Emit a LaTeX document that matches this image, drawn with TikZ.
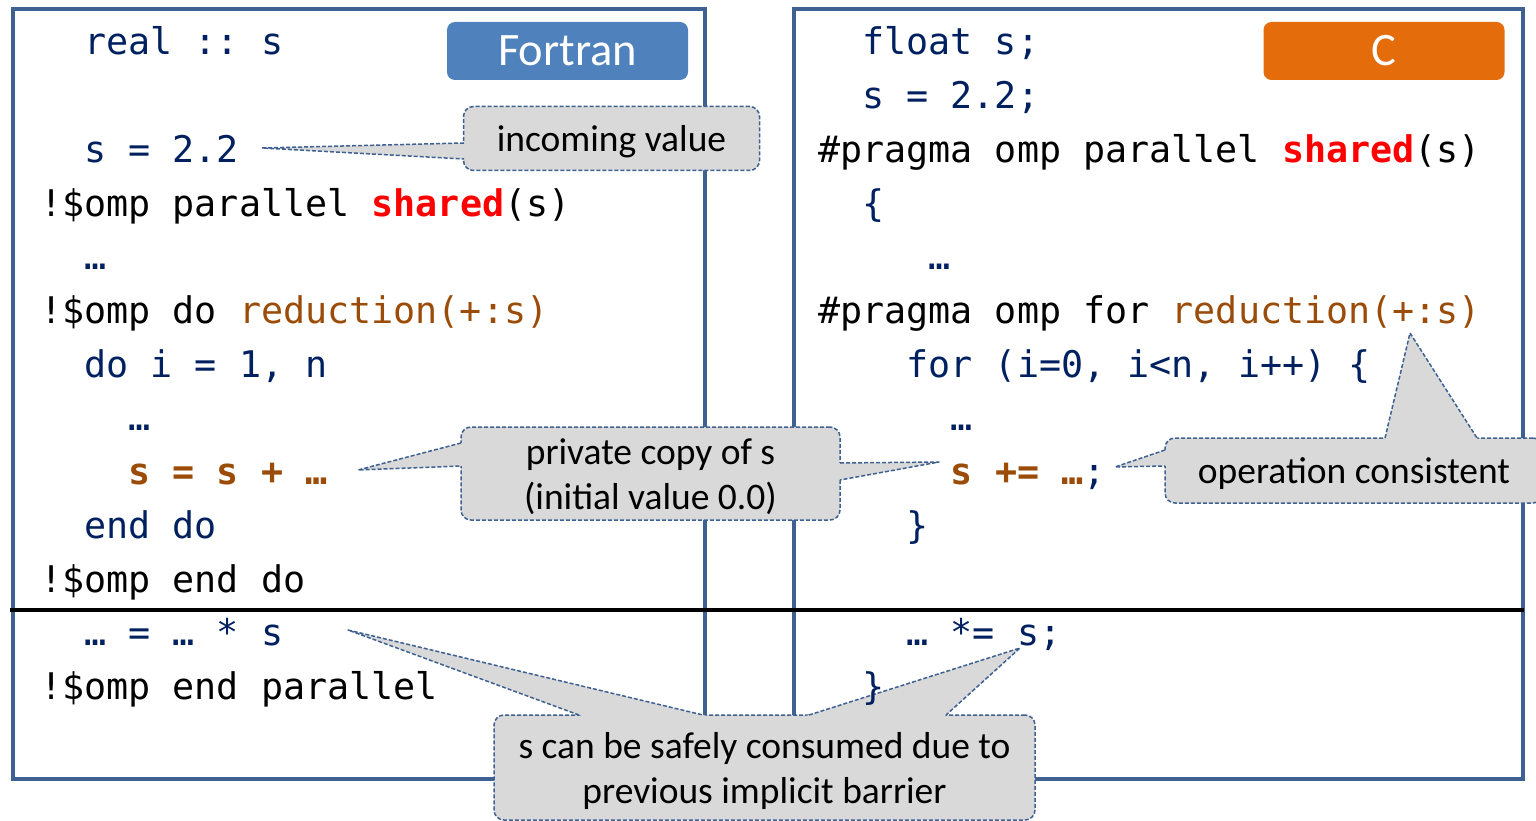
\documentclass[tikz,border=0pt]{standalone}
\usepackage{fontspec}
\setmainfont{Carlito}
\setmonofont{DejaVu Sans Mono}
\usetikzlibrary{calc}
\definecolor{frame}{HTML}{3E6191}
\definecolor{navy}{HTML}{002060}
\definecolor{rust}{HTML}{9A4C08}
\definecolor{hot}{HTML}{FF0000}
\definecolor{fblue}{HTML}{4F81BD}
\definecolor{corange}{HTML}{E46C0A}
\definecolor{note}{HTML}{D9D9D9}
\newcommand\nv[1]{\textcolor{navy}{#1}}
\newcommand\sh[1]{\textcolor{hot}{\bfseries #1}}
\newcommand\rd[1]{\textcolor{rust}{#1}}
\newcommand\rdb[1]{\textcolor{rust}{\bfseries #1}}
\newcommand\lo[1]{\raisebox{-3pt}[\height][\depth]{#1}}
% callout tail: base a, base b, tip
\newcommand\pointer[3]{%
  \fill[note] (#1) -- (#3) -- (#2) -- ($(#2)!-8pt!(#3)$) -- ($(#1)!-8pt!(#3)$) -- cycle;
  \draw[tail] (#1) -- (#3) -- (#2);}

\begin{document}
\begin{tikzpicture}[x=1pt,y=-1pt,
    codebox/.style={draw=frame,line width=4pt},
    code/.style={anchor=base west,inner sep=0pt,font=\ttfamily\fontsize{36.7}{44}\selectfont},
    lang/.style={rounded corners=8pt,inner sep=0pt,minimum width=241pt,minimum height=58pt,
      text=white,font=\fontsize{46.5}{50}\selectfont},
    notebox/.style={rounded corners=10pt,fill=note,draw=frame,line width=1.5pt,
      dash pattern=on 4pt off 2pt,inner sep=0pt,align=center,
      font=\fontsize{37.5}{45}\selectfont},
    tail/.style={draw=frame,line width=1.5pt,dash pattern=on 4pt off 2pt,line join=round}]
  \useasboundingbox (0,0) rectangle (1536,821);

  % the two code panels
  \draw[codebox] (13,9) rectangle (705,779);
  \draw[codebox] (794,9) rectangle (1523,779);
  \draw[line width=4.5pt] (10,610) -- (1524,610);

  \node[lang,fill=fblue] (fort) at (567.5,51) {Fortran};
  \node[lang,fill=corange] (clang) at (1384,51) {C};

  % callouts
  \node[notebox,minimum width=296pt,minimum height=64pt] (inc) at (611.5,138.5) {\lo{incoming value}};
  \coordinate (incA) at (464,143);
  \coordinate (incB) at (464,159);
  \coordinate (incT) at (262,148);
  \pointer{incA}{incB}{incT}

  \node[notebox,minimum width=379pt,minimum height=93pt] (prv) at (650.5,473.5)
    {\lo{private copy of s}\\\lo{(initial value 0.0)}};
  \coordinate (prvA) at (461,443);
  \coordinate (prvB) at (461,466);
  \coordinate (prvT) at (358,470);
  \pointer{prvA}{prvB}{prvT}
  \coordinate (prvC) at (840,463);
  \coordinate (prvD) at (840,480);
  \coordinate (prvU) at (939,462);
  \pointer{prvC}{prvD}{prvU}

  \node[notebox,minimum width=378pt,minimum height=65pt] (ops) at (1354,470.5) {\lo{operation consistent}};
  \coordinate (opsA) at (1165,450);
  \coordinate (opsB) at (1165,466);
  \coordinate (opsT) at (1115,467);
  \pointer{opsA}{opsB}{opsT}
  \coordinate (opsC) at (1385,438);
  \coordinate (opsD) at (1477,438);
  \coordinate (opsU) at (1410,333);
  \pointer{opsC}{opsD}{opsU}

  \node[notebox,minimum width=541pt,minimum height=105pt] (bar) at (764.5,767.5)
    {\lo{s can be safely consumed due to}\\\lo{previous implicit barrier}};
  \coordinate (barA) at (579,715);
  \coordinate (barB) at (703,715);
  \coordinate (barT) at (348,630);
  \pointer{barA}{barB}{barT}
  \coordinate (barC) at (809,715);
  \coordinate (barD) at (946,715);
  \coordinate (barU) at (1020,648);
  \pointer{barC}{barD}{barU}

  % Fortran code: name/indent/row/text
  \foreach \k/\ind/\row/\txt in {
      1/2/0/{\nv{real :: s}},
      2/2/2/{\nv{s = 2.2}},
      3/0/3/{!\$omp parallel \sh{shared}(s)},
      4/2/4/{\nv{…}},
      5/0/5/{!\$omp do \rd{reduction(+:s)}},
      6/2/6/{\nv{do i = 1, n}},
      7/4/7/{\nv{…}},
      8/4/8/{\rdb{s = s + …}},
      9/2/9/{\nv{end do}},
      10/0/10/{!\$omp end do},
      11/2/11/{\nv{… = … * s}},
      12/0/12/{!\$omp end parallel}}
    \node[code] (f\k) at ({40+22.1*\ind},{55+53.7*\row}) {\txt};

  % C code
  \foreach \k/\ind/\row/\txt in {
      1/2/0/{\nv{float s;}},
      2/2/1/{\nv{s = 2.2;}},
      3/0/2/{\#pragma omp parallel \sh{shared}(s)},
      4/2/3/{\nv{\{}},
      5/5/4/{\nv{…}},
      6/0/5/{\#pragma omp for \rd{reduction(+:s)}},
      7/4/6/{\nv{for (i=0, i<n, i++) \{}},
      8/6/7/{\nv{…}},
      9/6/8/{\rdb{s += …}\nv{;}},
      10/4/9/{\nv{\}}},
      11/4/11/{\nv{… *= s;}},
      12/2/12/{\nv{\}}}}
    \node[code] (c\k) at ({818+22.1*\ind},{55+53.7*\row}) {\txt};
\end{tikzpicture}
\end{document}
